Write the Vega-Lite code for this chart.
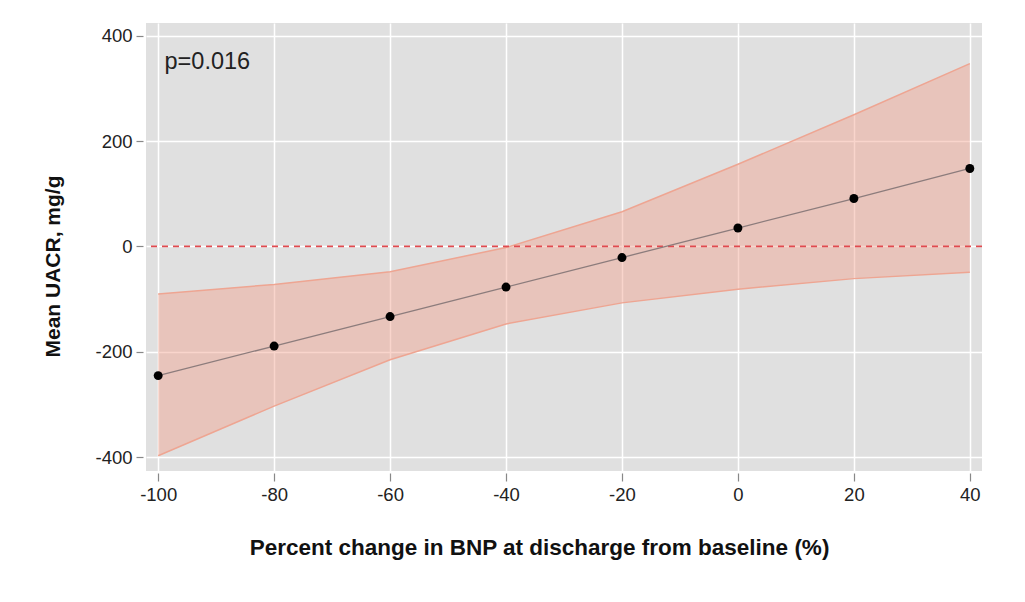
{
  "$schema": "https://vega.github.io/schema/vega-lite/v6.json",
  "width": 836,
  "height": 448,
  "autosize": "none",
  "padding": {"left": 146, "top": 23, "right": 43, "bottom": 131},
  "background": "white",
  "config": {
    "font": "Liberation Sans",
    "view": {"fill": "#e0e0e0", "stroke": null},
    "axis": {
      "domain": false,
      "grid": true,
      "gridColor": "white",
      "gridWidth": 1.5,
      "tickColor": "#888888",
      "tickWidth": 1.2,
      "tickSize": 8,
      "labelFont": "Liberation Sans",
      "labelFontSize": 18.5,
      "labelColor": "#222222",
      "labelExpr": "'' + datum.value",
      "titleFont": "Liberation Sans",
      "titleFontWeight": "bold",
      "titleColor": "#111111"
    }
  },
  "data": {
    "values": [
      {"x": -100, "y": -245, "lo": -397, "hi": -90},
      {"x": -80, "y": -189, "lo": -303, "hi": -72},
      {"x": -60, "y": -133, "lo": -215, "hi": -48},
      {"x": -40, "y": -77, "lo": -147, "hi": -2},
      {"x": -20, "y": -21, "lo": -107, "hi": 66},
      {"x": 0, "y": 35, "lo": -81, "hi": 156},
      {"x": 20, "y": 91, "lo": -61, "hi": 250},
      {"x": 40, "y": 148, "lo": -49, "hi": 347}
    ]
  },
  "layer": [
    {
      "mark": {"type": "area", "fill": "#f2a08a", "fillOpacity": 0.44},
      "encoding": {
        "x": {
          "field": "x", "type": "quantitative",
          "scale": {"domain": [-102.1, 42.1], "nice": false, "zero": false},
          "axis": {
            "values": [-100, -80, -60, -40, -20, 0, 20, 40],
            "offset": 2,
            "labelPadding": 4,
            "title": "Percent change in BNP at discharge from baseline (%)",
            "titleFontSize": 22.5,
            "titleX": 393,
            "titleY": 81,
            "titleBaseline": "alphabetic",
            "titleAlign": "center"
          }
        },
        "y": {
          "field": "lo", "type": "quantitative",
          "scale": {"domain": [-426, 424], "nice": false, "zero": false},
          "axis": {
            "values": [-400, -200, 0, 200, 400],
            "offset": 3,
            "tickSize": 7,
            "labelPadding": 4,
            "title": "Mean UACR, mg/g",
            "titleFontSize": 21,
            "titleAngle": 270,
            "titleX": -84,
            "titleY": 243,
            "titleBaseline": "alphabetic",
            "titleAlign": "center"
          }
        },
        "y2": {"field": "hi"}
      }
    },
    {
      "mark": {"type": "line", "color": "#eea592", "strokeWidth": 1.5},
      "encoding": {
        "x": {"field": "x", "type": "quantitative"},
        "y": {"field": "hi", "type": "quantitative"}
      }
    },
    {
      "mark": {"type": "line", "color": "#eea592", "strokeWidth": 1.5},
      "encoding": {
        "x": {"field": "x", "type": "quantitative"},
        "y": {"field": "lo", "type": "quantitative"}
      }
    },
    {
      "data": {"values": [{"ref": 0}]},
      "mark": {"type": "rule", "color": "#e04a4f", "strokeWidth": 1.7, "strokeDash": [6, 5]},
      "encoding": {"y": {"field": "ref", "type": "quantitative"}}
    },
    {
      "mark": {"type": "line", "color": "#8c7c7c", "strokeWidth": 1.3},
      "encoding": {
        "x": {"field": "x", "type": "quantitative"},
        "y": {"field": "y", "type": "quantitative"}
      }
    },
    {
      "mark": {"type": "point", "filled": true, "color": "black", "size": 80, "opacity": 1},
      "encoding": {
        "x": {"field": "x", "type": "quantitative"},
        "y": {"field": "y", "type": "quantitative"}
      }
    },
    {
      "data": {"values": [{"label": "p=0.016"}]},
      "mark": {"type": "text", "fontSize": 23.5, "align": "left", "baseline": "alphabetic", "color": "#222222", "font": "Liberation Sans"},
      "encoding": {
        "text": {"field": "label"},
        "x": {"datum": -98.9, "type": "quantitative"},
        "y": {"datum": 337, "type": "quantitative"}
      }
    }
  ]
}
